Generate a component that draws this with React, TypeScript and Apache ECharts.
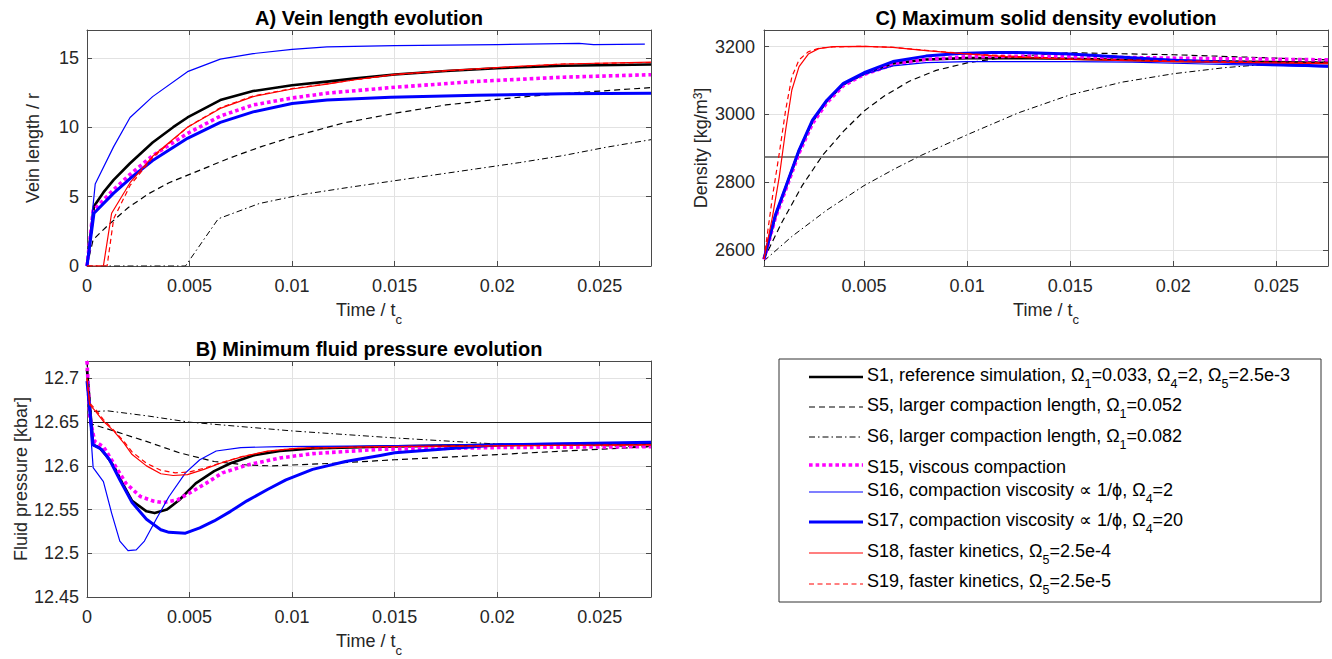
import { useEffect, useRef } from 'react';
import * as echarts from 'echarts';

type Pt = [number, number];

const FONT = '"Liberation Sans", Arial, Helvetica, sans-serif';

// ---------- axis limits & ticks ----------
const TIME_MAX = 0.0275;
const TIME_MIN_C = 0.00015;
const TIME_STEP = 0.005;
const timeTicksC = [0.005, 0.01, 0.015, 0.02, 0.025];
const VEIN_MAX = 17;
const VEIN_STEP = 5;
const P_MIN = 12.45;
const P_MAX = 12.72;
const P_STEP = 0.05;
const RHO_MIN = 2553;
const RHO_MAX = 3249;
const densityTicks = [2600, 2800, 3000, 3200];
const pressureRefLine = 12.65;
const densityRefLine = 2875;

// ---------- Panel A : vein length ----------
const veinS1: Pt[] = [[0, 0], [0.00034, 4.3], [0.0008, 5.3], [0.0013, 6.2], [0.0021, 7.4], [0.0032, 8.9], [0.0042, 10.0], [0.0049, 10.7], [0.0065, 11.95], [0.0081, 12.6], [0.01, 13.02], [0.0117, 13.28], [0.013, 13.5], [0.015, 13.8], [0.0175, 14.05], [0.02, 14.25], [0.0232, 14.42], [0.0275, 14.52]];
const veinS5: Pt[] = [[0, 0], [0.0003, 1.9], [0.001, 2.9], [0.002, 4.2], [0.003, 5.2], [0.004, 6.0], [0.005, 6.6], [0.007, 7.8], [0.0085, 8.6], [0.01, 9.3], [0.0125, 10.3], [0.015, 11.0], [0.0175, 11.6], [0.02, 12.0], [0.0225, 12.35], [0.025, 12.6], [0.0275, 12.85]];
const veinS6: Pt[] = [[0, 0], [0.0048, 0], [0.0064, 3.4], [0.0084, 4.5], [0.0105, 5.15], [0.0127, 5.65], [0.0148, 6.1], [0.0169, 6.55], [0.019, 7.0], [0.0211, 7.45], [0.0232, 7.95], [0.0253, 8.55], [0.0275, 9.1]];
const veinS15: Pt[] = [[0, 0], [0.0003, 4.0], [0.0013, 5.5], [0.0021, 6.6], [0.0032, 7.95], [0.0049, 9.55], [0.0065, 10.8], [0.0081, 11.6], [0.01, 12.1], [0.0117, 12.45], [0.0148, 12.85], [0.019, 13.3], [0.0232, 13.6], [0.0275, 13.78]];
const veinS16: Pt[] = [[0, 0], [0.0004, 5.9], [0.0013, 8.6], [0.0021, 10.7], [0.0032, 12.2], [0.0049, 14.0], [0.0065, 14.9], [0.0081, 15.3], [0.01, 15.6], [0.0117, 15.78], [0.015, 15.88], [0.02, 15.95], [0.024, 16.03], [0.0247, 15.95], [0.0272, 15.98]];
const veinS17: Pt[] = [[0, 0], [0.00034, 3.8], [0.0013, 5.25], [0.0021, 6.3], [0.0032, 7.6], [0.0049, 9.2], [0.0065, 10.35], [0.0081, 11.1], [0.01, 11.7], [0.0117, 11.95], [0.0148, 12.15], [0.019, 12.3], [0.0232, 12.4], [0.0275, 12.44]];
const veinS18: Pt[] = [[0, 0], [0.0008, 0], [0.0012, 3.8], [0.0021, 6.0], [0.0032, 7.9], [0.0049, 10.0], [0.0065, 11.35], [0.0081, 12.2], [0.01, 12.75], [0.0117, 13.1], [0.013, 13.4], [0.015, 13.8], [0.0175, 14.07], [0.02, 14.3], [0.0232, 14.55], [0.0275, 14.68]];
const veinS19: Pt[] = [[0, 0], [0.00098, 0], [0.0013, 3.4], [0.0021, 5.8], [0.0032, 7.8], [0.0049, 10.0], [0.0065, 11.4], [0.0081, 12.25], [0.01, 12.78], [0.0117, 13.12], [0.013, 13.4], [0.015, 13.78], [0.0175, 14.05], [0.02, 14.28], [0.0232, 14.55], [0.0275, 14.66]];

// ---------- Panel B : minimum fluid pressure ----------
const presS1: Pt[] = [[0, 12.71], [0.0003, 12.624], [0.0006, 12.621], [0.0009, 12.613], [0.0013, 12.6], [0.0018, 12.577], [0.0022, 12.56], [0.0029, 12.548], [0.0033, 12.546], [0.0039, 12.55], [0.0045, 12.561], [0.0053, 12.58], [0.0062, 12.594], [0.007, 12.603], [0.0081, 12.612], [0.0094, 12.617], [0.011, 12.62], [0.0143, 12.622], [0.02, 12.624], [0.0275, 12.625]];
const presS5: Pt[] = [[0, 12.72], [0.0002, 12.648], [0.0013, 12.64], [0.0029, 12.628], [0.0045, 12.615], [0.0062, 12.605], [0.0078, 12.601], [0.009, 12.6], [0.012, 12.603], [0.015, 12.607], [0.02, 12.613], [0.025, 12.619], [0.0275, 12.622]];
const presS6: Pt[] = [[0, 12.72], [0.0002, 12.662], [0.001, 12.663], [0.003, 12.657], [0.005, 12.65], [0.01, 12.64], [0.015, 12.632], [0.02, 12.625], [0.0275, 12.622]];
const presS15: Pt[] = [[0, 12.72], [0.00013, 12.657], [0.00037, 12.628], [0.0008, 12.622], [0.0013, 12.603], [0.0019, 12.58], [0.0026, 12.565], [0.0032, 12.56], [0.0037, 12.558], [0.0044, 12.561], [0.005, 12.569], [0.0058, 12.58], [0.0066, 12.592], [0.0078, 12.601], [0.0094, 12.609], [0.011, 12.614], [0.0143, 12.619], [0.02, 12.621], [0.0275, 12.622]];
const presS16: Pt[] = [[0, 12.697], [0.0003, 12.598], [0.0008, 12.582], [0.0012, 12.546], [0.0016, 12.514], [0.002, 12.503], [0.0024, 12.504], [0.0028, 12.514], [0.0034, 12.54], [0.004, 12.565], [0.0048, 12.592], [0.0055, 12.607], [0.0063, 12.617], [0.0075, 12.621], [0.0094, 12.622], [0.0143, 12.623], [0.02, 12.625], [0.0275, 12.627]];
const presS17: Pt[] = [[0, 12.697], [0.0003, 12.624], [0.0007, 12.619], [0.0011, 12.607], [0.0016, 12.584], [0.0022, 12.558], [0.0029, 12.539], [0.0036, 12.527], [0.004, 12.524], [0.0048, 12.523], [0.0055, 12.529], [0.0062, 12.537], [0.007, 12.548], [0.0078, 12.56], [0.0088, 12.573], [0.0097, 12.584], [0.011, 12.596], [0.0126, 12.605], [0.0143, 12.612], [0.015, 12.615], [0.02, 12.624], [0.0275, 12.627]];
const presS18: Pt[] = [[0, 12.7], [0.00013, 12.67], [0.0004, 12.663], [0.0008, 12.651], [0.0013, 12.64], [0.0018, 12.626], [0.0022, 12.613], [0.0029, 12.6], [0.0036, 12.591], [0.0042, 12.589], [0.0049, 12.59], [0.0057, 12.596], [0.0065, 12.603], [0.0075, 12.61], [0.0088, 12.617], [0.0102, 12.62], [0.0143, 12.622], [0.02, 12.623], [0.0275, 12.624]];
const presS19: Pt[] = [[0, 12.7], [0.00013, 12.672], [0.0004, 12.665], [0.0008, 12.653], [0.0013, 12.641], [0.0018, 12.628], [0.0022, 12.616], [0.0029, 12.603], [0.0036, 12.595], [0.0043, 12.592], [0.005, 12.593], [0.0058, 12.598], [0.0066, 12.604], [0.0076, 12.611], [0.0089, 12.617], [0.0102, 12.62], [0.0143, 12.622], [0.02, 12.623], [0.0275, 12.624]];

// ---------- Panel C : maximum solid density ----------
const rhoS1: Pt[] = [[0.00015, 2574], [0.0007, 2700], [0.0012, 2784], [0.00185, 2893], [0.0025, 2980], [0.0032, 3040], [0.004, 3089], [0.005, 3120], [0.0064, 3150], [0.008, 3162], [0.01, 3166], [0.013, 3166], [0.015, 3164], [0.02, 3158], [0.0275, 3152]];
const rhoS5: Pt[] = [[0.00015, 2574], [0.001, 2680], [0.002, 2790], [0.003, 2880], [0.004, 2950], [0.005, 3010], [0.006, 3055], [0.0072, 3098], [0.0085, 3130], [0.01, 3152], [0.012, 3170], [0.015, 3182], [0.02, 3176], [0.025, 3166], [0.0275, 3161]];
const rhoS6: Pt[] = [[0.00015, 2568], [0.0015, 2640], [0.0032, 2718], [0.005, 2790], [0.0065, 2840], [0.0078, 2880], [0.01, 2940], [0.0125, 3005], [0.015, 3058], [0.0175, 3095], [0.02, 3120], [0.0225, 3138], [0.025, 3150], [0.0275, 3156]];
const rhoS15: Pt[] = [[0.00015, 2572], [0.0007, 2695], [0.0012, 2778], [0.00185, 2886], [0.0025, 2973], [0.0032, 3035], [0.004, 3085], [0.005, 3118], [0.0064, 3147], [0.008, 3162], [0.01, 3170], [0.013, 3172], [0.015, 3170], [0.02, 3166], [0.0275, 3161]];
const rhoS16: Pt[] = [[0.00015, 2574], [0.0007, 2700], [0.0012, 2784], [0.00185, 2893], [0.0025, 2980], [0.0032, 3040], [0.004, 3088], [0.005, 3118], [0.0064, 3143], [0.008, 3153], [0.01, 3156], [0.015, 3156], [0.018, 3154], [0.022, 3148], [0.0275, 3140]];
const rhoS17: Pt[] = [[0.00015, 2574], [0.0007, 2703], [0.0012, 2786], [0.00185, 2895], [0.0025, 2983], [0.0032, 3042], [0.004, 3092], [0.005, 3123], [0.0064, 3156], [0.008, 3172], [0.0096, 3180], [0.0112, 3183], [0.013, 3182], [0.015, 3178], [0.02, 3160], [0.025, 3148], [0.0275, 3142]];
const rhoS18: Pt[] = [[0.00015, 2574], [0.00056, 2698], [0.00089, 2816], [0.0012, 2954], [0.0015, 3072], [0.00185, 3141], [0.0023, 3178], [0.0028, 3194], [0.0035, 3200], [0.005, 3201], [0.0064, 3198], [0.008, 3188], [0.0096, 3180], [0.012, 3170], [0.015, 3162], [0.02, 3156], [0.0275, 3150]];
const rhoS19: Pt[] = [[0.00015, 2574], [0.00056, 2757], [0.00089, 2885], [0.0012, 3013], [0.0015, 3111], [0.00185, 3161], [0.0023, 3185], [0.0028, 3195], [0.0035, 3199], [0.005, 3201], [0.0064, 3198], [0.008, 3189], [0.0096, 3181], [0.012, 3172], [0.015, 3164], [0.02, 3158], [0.0275, 3152]];

const seriesKeys = ['S1', 'S5', 'S6', 'S15', 'S16', 'S17', 'S18', 'S19'];
const veinData: Record<string, Pt[]> = { S1: veinS1, S5: veinS5, S6: veinS6, S15: veinS15, S16: veinS16, S17: veinS17, S18: veinS18, S19: veinS19 };
const presData: Record<string, Pt[]> = { S1: presS1, S5: presS5, S6: presS6, S15: presS15, S16: presS16, S17: presS17, S18: presS18, S19: presS19 };
const rhoData: Record<string, Pt[]> = { S1: rhoS1, S5: rhoS5, S6: rhoS6, S15: rhoS15, S16: rhoS16, S17: rhoS17, S18: rhoS18, S19: rhoS19 };

const legendLabels: [string, string][][] = [
  [['m', 'S1, reference simulation, Ω'], ['s', '1'], ['m', '=0.033, Ω'], ['s', '4'], ['m', '=2, Ω'], ['s', '5'], ['m', '=2.5e-3']],
  [['m', 'S5, larger compaction length, Ω'], ['s', '1'], ['m', '=0.052']],
  [['m', 'S6, larger compaction length, Ω'], ['s', '1'], ['m', '=0.082']],
  [['m', 'S15, viscous compaction']],
  [['m', 'S16, compaction viscosity ∝ 1/ϕ, Ω'], ['s', '4'], ['m', '=2']],
  [['m', 'S17, compaction viscosity ∝ 1/ϕ, Ω'], ['s', '4'], ['m', '=20']],
  [['m', 'S18, faster kinetics, Ω'], ['s', '5'], ['m', '=2.5e-4']],
  [['m', 'S19, faster kinetics, Ω'], ['s', '5'], ['m', '=2.5e-5']],
];

// ---------- styles ----------
const lineStyles: Record<string, { color: string; width: number; dash: number[] | null }> = {
  S1: { color: '#000000', width: 2.6, dash: null },
  S5: { color: '#000000', width: 1.2, dash: [6, 4] },
  S6: { color: '#000000', width: 1, dash: [6, 3, 1.5, 3] },
  S15: { color: '#ff00ff', width: 3.6, dash: [3.6, 3] },
  S16: { color: '#0000ff', width: 1.2, dash: null },
  S17: { color: '#0000ff', width: 3, dash: null },
  S18: { color: '#ff0000', width: 1.2, dash: null },
  S19: { color: '#ff0000', width: 1.2, dash: [5, 3.5] },
};

const AXIS_COLOR = '#4a4a4a';
const GRID_COLOR = '#e2e2e2';
const TEXT_COLOR = '#262626';
const fmt = (v: number) => String(parseFloat(Number(v).toFixed(4)));

const GRIDS = [
  { left: 87, top: 30, width: 564, height: 236 },
  { left: 87, top: 361, width: 564, height: 236 },
  { left: 764, top: 30, width: 564, height: 236 },
];

const nameRich = {
  m: { fontSize: 18, lineHeight: 18, verticalAlign: 'top', color: TEXT_COLOR, fontFamily: FONT },
  s: { fontSize: 13, lineHeight: 13, verticalAlign: 'top', padding: [12, 0, 0, 0], color: TEXT_COLOR, fontFamily: FONT },
  p: { fontSize: 12, lineHeight: 12, verticalAlign: 'top', color: TEXT_COLOR, fontFamily: FONT },
  mb: { fontSize: 18, lineHeight: 18, verticalAlign: 'bottom', padding: [6, 0, 0, 0], color: TEXT_COLOR, fontFamily: FONT },
};

function axisCommon(extra: any) {
  return {
    type: 'value',
    axisLine: { show: true, onZero: false, lineStyle: { color: AXIS_COLOR, width: 1 } },
    axisTick: { show: true, inside: true, length: 5, lineStyle: { color: AXIS_COLOR, width: 1 }, ...(extra.tick || {}) },
    splitLine: extra.split === false ? { show: false } : { show: true, lineStyle: { color: GRID_COLOR, width: 1 } },
    axisLabel: extra.label === false ? { show: false } : {
      show: true, color: TEXT_COLOR, fontSize: 18, fontFamily: FONT, formatter: fmt, showMaxLabel: false,
      ...(extra.labelOpt || {}),
    },
    nameTextStyle: { fontSize: 18, color: TEXT_COLOR, fontFamily: FONT, rich: nameRich },
    ...extra.base,
  };
}

function buildOption() {
  const xAxis: any[] = [];
  const yAxis: any[] = [];
  // Panel A & B time axes
  [0, 1].forEach((g) => {
    xAxis.push(axisCommon({
      base: { gridIndex: g, position: 'bottom', min: 0, max: TIME_MAX, interval: TIME_STEP, name: '{m|Time / t}{s|c}', nameLocation: 'middle', nameGap: 35 },
      labelOpt: { margin: 11 },
    }));
    xAxis.push(axisCommon({
      base: { gridIndex: g, position: 'top', min: 0, max: TIME_MAX, interval: TIME_STEP },
      label: false, split: false,
    }));
  });
  // Panel C time axes
  xAxis.push(axisCommon({
    base: { gridIndex: 2, position: 'bottom', min: TIME_MIN_C, max: TIME_MAX, name: '{m|Time / t}{s|c}', nameLocation: 'middle', nameGap: 35 },
    labelOpt: { margin: 11, customValues: timeTicksC, showMinLabel: true, showMaxLabel: true },
    tick: { customValues: timeTicksC },
  }));
  xAxis.push(axisCommon({
    base: { gridIndex: 2, position: 'top', min: TIME_MIN_C, max: TIME_MAX },
    label: false, split: false, tick: { customValues: timeTicksC },
  }));

  // y axes
  yAxis.push(axisCommon({
    base: { gridIndex: 0, position: 'left', min: 0, max: VEIN_MAX, interval: VEIN_STEP, name: 'Vein length / r', nameLocation: 'middle', nameGap: 45 },
    labelOpt: { margin: 8 },
  }));
  yAxis.push(axisCommon({ base: { gridIndex: 0, position: 'right', min: 0, max: VEIN_MAX, interval: VEIN_STEP }, label: false, split: false }));
  yAxis.push(axisCommon({
    base: { gridIndex: 1, position: 'left', min: P_MIN, max: P_MAX, interval: P_STEP, name: 'Fluid pressure [kbar]', nameLocation: 'middle', nameGap: 57 },
    labelOpt: { margin: 8 },
  }));
  yAxis.push(axisCommon({ base: { gridIndex: 1, position: 'right', min: P_MIN, max: P_MAX, interval: P_STEP }, label: false, split: false }));
  yAxis.push(axisCommon({
    base: { gridIndex: 2, position: 'left', min: RHO_MIN, max: RHO_MAX, name: '{mb|Density [kg/m}{p|3}{mb|]}', nameLocation: 'middle', nameGap: 54 },
    labelOpt: { margin: 9, customValues: densityTicks, showMinLabel: true, showMaxLabel: true },
    tick: { customValues: densityTicks },
  }));
  yAxis.push(axisCommon({ base: { gridIndex: 2, position: 'right', min: RHO_MIN, max: RHO_MAX }, label: false, split: false, tick: { customValues: densityTicks } }));

  const series: any[] = [];
  const panels = [
    { data: veinData, xi: 0, yi: 0, ref: null as number | null, refColor: '', refWidth: 1 },
    { data: presData, xi: 2, yi: 2, ref: pressureRefLine, refColor: '#1a1a1a', refWidth: 1 },
    { data: rhoData, xi: 4, yi: 4, ref: densityRefLine, refColor: '#555555', refWidth: 1.5 },
  ];
  panels.forEach((p) => {
    seriesKeys.forEach((k, i) => {
      const st = lineStyles[k];
      const s: any = {
        type: 'line', name: k, data: p.data[k], xAxisIndex: p.xi, yAxisIndex: p.yi,
        showSymbol: false, symbol: 'none', silent: true, z: 2 + i,
        lineStyle: { color: st.color, width: st.width, type: st.dash ? st.dash : 'solid', cap: 'butt', join: 'round' },
        itemStyle: { color: st.color },
        emphasis: { disabled: true },
      };
      if (i === 0 && p.ref !== null) {
        s.markLine = {
          silent: true, symbol: ['none', 'none'], label: { show: false }, animation: false,
          lineStyle: { color: p.refColor, width: p.refWidth, type: 'solid' },
          emphasis: { disabled: true },
          data: [{ yAxis: p.ref }],
        };
      }
      series.push(s);
    });
  });

  // graphic: titles + legend
  const elements: any[] = [];
  const titles = [
    { text: 'A) Vein length evolution', x: GRIDS[0].left + GRIDS[0].width / 2, y: 18 },
    { text: 'B) Minimum fluid pressure evolution', x: GRIDS[1].left + GRIDS[1].width / 2, y: 349 },
    { text: 'C) Maximum solid density evolution', x: GRIDS[2].left + GRIDS[2].width / 2, y: 18 },
  ];
  titles.forEach((t) => elements.push({
    type: 'text', x: t.x, y: t.y, silent: true,
    style: { text: t.text, fill: '#000', fontSize: 20, fontWeight: 'bold', fontFamily: FONT, align: 'center', verticalAlign: 'middle' },
  }));

  const box = { x: 779, y: 359, w: 542, h: 243 };
  elements.push({ type: 'rect', silent: true, shape: { x: box.x, y: box.y, width: box.w, height: box.h }, style: { fill: '#fff', stroke: '#333', lineWidth: 1 }, z: 10 });
  const rowY = [375, 405, 436, 466.5, 490, 520, 551, 581];
  const lineY = [377, 407, 437, 465, 492, 522, 553, 584];
  const legendRich = {
    m: { fontSize: 18, lineHeight: 18, verticalAlign: 'top', fill: '#000', color: '#000', fontFamily: FONT },
    s: { fontSize: 12.5, lineHeight: 12.5, verticalAlign: 'top', padding: [11, 0, 0, 0], fill: '#000', color: '#000', fontFamily: FONT },
  };
  seriesKeys.forEach((k, i) => {
    const st = lineStyles[k];
    elements.push({
      type: 'line', silent: true, z: 11,
      shape: { x1: 809, y1: lineY[i], x2: 863, y2: lineY[i] },
      style: { stroke: st.color, lineWidth: st.width, lineDash: st.dash || undefined, lineCap: 'butt' },
    });
    elements.push({
      type: 'text', silent: true, z: 11, x: 867, y: rowY[i] - 9,
      style: {
        text: legendLabels[i].map(([n, t]) => `{${n}|${t}}`).join(''),
        rich: legendRich, fill: '#000', fontSize: 18, fontFamily: FONT, align: 'left', verticalAlign: 'top',
      },
    });
  });

  return {
    animation: false,
    backgroundColor: '#ffffff',
    textStyle: { fontFamily: FONT },
    grid: GRIDS.map((g) => ({ ...g, containLabel: false, outerBoundsMode: 'none' })),
    xAxis,
    yAxis,
    series,
    graphic: { elements },
  };
}

export default function App() {
  const ref = useRef<HTMLDivElement>(null);
  useEffect(() => {
    if (!ref.current) return;
    const chart = echarts.init(ref.current, null, { renderer: 'svg' });
    chart.setOption(buildOption() as any);
    return () => chart.dispose();
  }, []);
  return <div ref={ref} style={{ position: 'fixed', left: 0, top: 0, width: 1332, height: 659, background: '#fff' }} />;
}
